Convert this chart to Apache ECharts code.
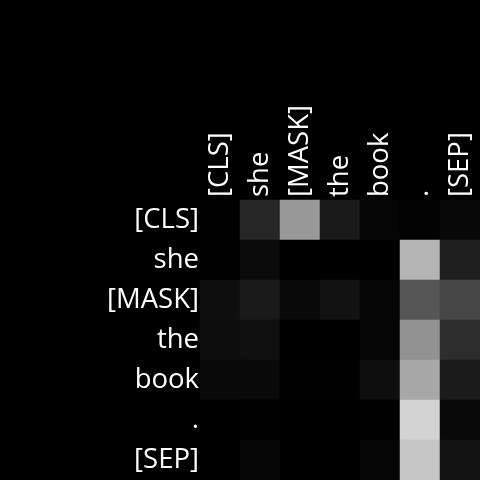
<!DOCTYPE html>
<html><head><meta charset="utf-8">
<script src="https://cdn.jsdelivr.net/npm/echarts@6/dist/echarts.min.js"></script>
<style>html,body{margin:0;padding:0;background:#000}#c{width:480px;height:480px}</style>
</head><body><div id="c"></div>
<script>
var tokens = ['[CLS]','she','[MASK]','the','book','.','[SEP]'];
var row0 = [0.004,0.149,0.600,0.102,0.020,0.012,0.031];
var row1 = [0.008,0.043,0.000,0.000,0.000,0.706,0.122];
var row2 = [0.059,0.102,0.039,0.071,0.024,0.337,0.275];
var row3 = [0.047,0.063,0.000,0.000,0.020,0.573,0.176];
var row4 = [0.039,0.035,0.004,0.008,0.055,0.655,0.110];
var row5 = [0.000,0.008,0.000,0.000,0.004,0.827,0.039];
var row6 = [0.000,0.016,0.000,0.000,0.020,0.776,0.075];
var rows = [row0,row1,row2,row3,row4,row5,row6];
var data = [];
rows.forEach(function(r,i){ r.forEach(function(v,j){ data.push([j,i,v]); }); });
var font = 'Open Sans';
var chart = echarts.init(document.getElementById('c'));
chart.setOption({
  backgroundColor:'#000',
  animation:false,
  grid:{left:200,top:200,width:280,height:280},
  xAxis:{type:'category',data:tokens,position:'top',
    axisLine:{show:false},axisTick:{show:false},splitLine:{show:false},
    axisLabel:{rotate:-90,margin:3,color:'#fff',fontSize:27.5,fontFamily:font,interval:0}},
  yAxis:{type:'category',data:tokens,inverse:true,
    axisLine:{show:false},axisTick:{show:false},splitLine:{show:false},
    axisLabel:{margin:1,color:'#fff',fontSize:27.5,fontFamily:font,interval:0}},
  visualMap:{show:false,min:0,max:1,inRange:{color:['#000000','#ffffff']}},
  series:[{type:'heatmap',data:data,itemStyle:{borderWidth:0}}]
});
</script></body></html>
